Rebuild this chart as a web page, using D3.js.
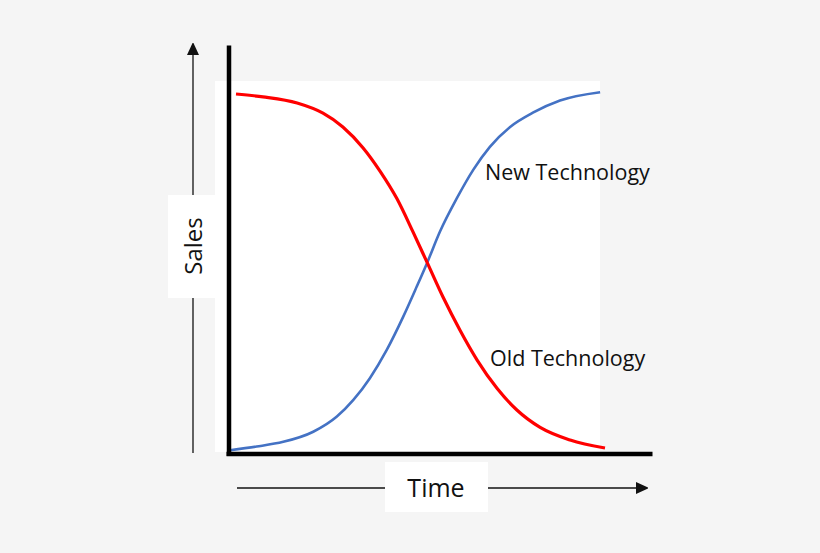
<!DOCTYPE html>
<html>
<head>
<meta charset="utf-8">
<script src="https://cdn.jsdelivr.net/npm/d3@7"></script>
<style>
  html, body { margin: 0; padding: 0; background: #f5f5f5; }
  svg { display: block; }
  .lbl { font-family: "Open Sans", sans-serif; fill: #111; }
</style>
</head>
<body>
<div id="chart"></div>
<script>
// Time (0-100) and Sales (0-100)
const oldTime  = [1.6, 8.8, 17.9, 24.8, 30.1, 35.5, 40.0, 44.5, 48.8, 52.5, 56.8, 61.3, 65.9, 71.2, 76.5, 82.7, 90.7, 100];
const oldSales = [98.9, 98.1, 96.4, 93.6, 89.8, 84.0, 77.6, 70.0, 60.8, 52.5, 42.8, 33.7, 25.4, 17.6, 11.6, 6.8, 3.3, 1.1];

const newTime  = [0, 7.1, 14.2, 22.2, 28.5, 32.9, 37.3, 41.8, 46.2, 49.8, 52.5, 56.0, 60.5, 64.9, 69.3, 74.7, 80.9, 88.0, 98.7];
const newSales = [0.5, 1.5, 2.8, 5.6, 9.8, 14.4, 20.4, 28.2, 37.4, 45.7, 52.1, 60.9, 70.1, 78.0, 84.3, 89.8, 93.8, 97.1, 99.4];

const seriesLabels = ["New Technology", "Old Technology"];
const xTitle = "Time";
const yTitle = "Sales";

const width = 820;
const height = 553;

const svg = d3.select("#chart").append("svg")
  .attr("width", width)
  .attr("height", height);

svg.append("rect")
  .attr("width", width)
  .attr("height", height)
  .attr("fill", "#f5f5f5");

// scales
const x = d3.scaleLinear().domain([0, 100]).range([230, 605]);
const y = d3.scaleLinear().domain([0, 100]).range([452, 90]);

// white plot area
svg.append("rect")
  .attr("x", 215)
  .attr("y", 81)
  .attr("width", 385)
  .attr("height", 371)
  .attr("fill", "#fff");

// arrow heads
const defs = svg.append("defs");
defs.append("marker")
  .attr("id", "arr")
  .attr("viewBox", "0 0 12 12")
  .attr("refX", 0)
  .attr("refY", 6)
  .attr("markerWidth", 12)
  .attr("markerHeight", 12)
  .attr("markerUnits", "userSpaceOnUse")
  .attr("orient", "auto")
  .append("path")
  .attr("d", "M0,0 L13,6 L0,12 Z")
  .attr("fill", "#111");

// thin direction arrows
svg.append("line")
  .attr("x1", 193).attr("y1", 453)
  .attr("x2", 193).attr("y2", 55)
  .attr("stroke", "#111")
  .attr("stroke-width", 1.3)
  .attr("marker-end", "url(#arr)");

svg.append("line")
  .attr("x1", 237).attr("y1", 488)
  .attr("x2", 636).attr("y2", 488)
  .attr("stroke", "#111")
  .attr("stroke-width", 1.3)
  .attr("marker-end", "url(#arr)");

// title boxes
svg.append("rect")
  .attr("x", 168).attr("y", 195)
  .attr("width", 47).attr("height", 103)
  .attr("fill", "#fff");

svg.append("rect")
  .attr("x", 385).attr("y", 462)
  .attr("width", 103).attr("height", 50)
  .attr("fill", "#fff");

svg.append("text")
  .attr("class", "lbl")
  .attr("transform", "translate(202,246) rotate(-90)")
  .attr("text-anchor", "middle")
  .attr("font-size", "24px")
  .text(yTitle);

svg.append("text")
  .attr("class", "lbl")
  .attr("x", 436)
  .attr("y", 497)
  .attr("text-anchor", "middle")
  .attr("font-size", "25px")
  .text(xTitle);

// curves
const line = d3.line()
  .x(d => x(d[0]))
  .y(d => y(d[1]))
  .curve(d3.curveMonotoneX);

svg.append("path")
  .datum(newTime.map((t, i) => [t, newSales[i]]))
  .attr("d", line)
  .attr("fill", "none")
  .attr("stroke", "#4472c4")
  .attr("stroke-width", 2.6);

svg.append("path")
  .datum(oldTime.map((t, i) => [t, oldSales[i]]))
  .attr("d", line)
  .attr("fill", "none")
  .attr("stroke", "#ff0000")
  .attr("stroke-width", 3.2);

// thick axes, no ticks
const yAxisScale = d3.scaleLinear()
  .domain([y.invert(455.5), y.invert(45)])
  .range([455.5, 45]);
const xAxisScale = d3.scaleLinear()
  .domain([x.invert(226), x.invert(652)])
  .range([226, 652]);

const yAxis = svg.append("g")
  .attr("transform", "translate(228.5,0)")
  .call(d3.axisLeft(yAxisScale).tickValues([]).tickSizeOuter(0));
const xAxis = svg.append("g")
  .attr("transform", "translate(0,453.5)")
  .call(d3.axisBottom(xAxisScale).tickValues([]).tickSizeOuter(0));

[yAxis, xAxis].forEach(g => g.select(".domain")
  .attr("stroke", "#000")
  .attr("stroke-width", 4.5));

// series labels
svg.append("text")
  .attr("class", "lbl")
  .attr("x", 485)
  .attr("y", 180)
  .attr("font-size", "21.5px")
  .text(seriesLabels[0]);

svg.append("text")
  .attr("class", "lbl")
  .attr("x", 490)
  .attr("y", 366)
  .attr("font-size", "21.5px")
  .text(seriesLabels[1]);
</script>
</body>
</html>
